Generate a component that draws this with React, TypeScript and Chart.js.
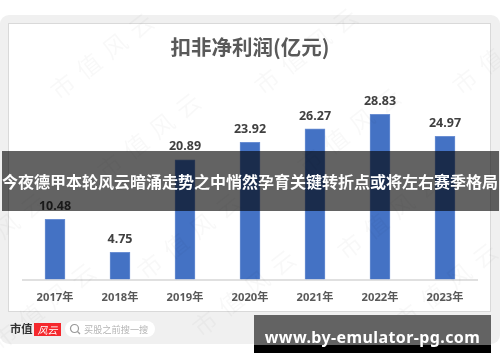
import React, { useEffect, useRef } from "react";
import { Chart, registerables } from "chart.js";

Chart.register(...registerables);

const categories = ["2017年", "2018年", "2019年", "2020年", "2021年", "2022年", "2023年"];
const profit = [10.48, 4.75, 20.89, 23.92, 26.27, 28.83, 24.97];
const chartTitle = "扣非净利润(亿元)";
const headline = "今夜德甲本轮风云暗涌走势之中悄然孕育关键转折点或将左右赛季格局";
const siteUrl = "www.by-emulator-pg.com";
const watermark = "市值风云";
const watermarkSpots = [
  [103, 50], [307, 45], [505, 45],
  [150, 130], [350, 125],
  [-5, 230], [190, 230], [390, 210],
  [45, 300], [245, 287], [447, 280],
];

const CJK = '"Noto Sans CJK SC", "Noto Sans", sans-serif';

const valueLabels = {
  id: "valueLabels",
  afterDatasetsDraw(chart: any) {
    const { ctx } = chart;
    const meta = chart.getDatasetMeta(0);
    ctx.save();
    ctx.font = `bold 12.5px "Noto Sans", sans-serif`;
    ctx.fillStyle = "#404040";
    ctx.textAlign = "center";
    ctx.textBaseline = "middle";
    meta.data.forEach((bar: any, i: number) => {
      ctx.fillText(profit[i].toFixed(2), bar.x, bar.y - 13);
    });
    ctx.restore();
  },
};

export default function App() {
  const ref = useRef<HTMLCanvasElement>(null);
  useEffect(() => {
    const chart = new Chart(ref.current!, {
      type: "bar",
      data: {
        labels: categories,
        datasets: [
          {
            data: profit,
            backgroundColor: "#4472c4",
            borderColor: "#6b8fd3",
            borderWidth: 1,
            barThickness: 20,
          },
        ],
      },
      options: {
        responsive: false,
        animation: false,
        layout: { padding: { left: 22.5, right: 22.5, top: 23, bottom: 0 } },
        plugins: {
          legend: { display: false },
          tooltip: { enabled: false },
          title: {
            display: true,
            text: chartTitle,
            color: "#595959",
            font: { family: CJK, size: 20.5, weight: "bold" },
            padding: { top: 11.5, bottom: 37 },
          },
        },
        scales: {
          x: {
            afterFit(scale: any) {
              scale.height = 82.5;
            },
            grid: { display: false },
            border: { color: "#e0e0e0", width: 2 },
            ticks: {
              color: "#595959",
              padding: 4,
              maxRotation: 0,
              font: { family: '"Noto Sans", ' + CJK, size: 11.2, weight: "bold" },
            },
          },
          y: { display: false, min: 0, max: 32 },
        },
      },
      plugins: [valueLabels],
    } as any);
    return () => chart.destroy();
  }, []);

  return (
    <div style={{ position: "absolute", left: 0, top: 0, width: 500, height: 362, overflow: "hidden", background: "#fff" }}>
      <div style={{ position: "absolute", left: 0, top: 15, width: 500, height: 329, background: "#f0f0f0", borderRadius: 9 }} />
      <div style={{ position: "absolute", left: 8, top: 23, width: 481, height: 287, background: "#fff", border: "1px solid #d9d9d9" }} />
      <canvas ref={ref} width={500} height={362} style={{ position: "absolute", left: 0, top: 0 }} />
      {watermarkSpots.map(([x, y], i) => (
        <div
          key={i}
          style={{
            position: "absolute",
            left: x - 70,
            top: y - 15,
            width: 140,
            height: 30,
            lineHeight: "30px",
            textAlign: "center",
            transform: "rotate(-38deg)",
            color: "rgba(0,0,0,0.028)",
            font: `24px ${CJK}`,
            letterSpacing: 9,
            whiteSpace: "nowrap",
          }}
        >
          {watermark}
        </div>
      ))}
      <div style={{ position: "absolute", left: 10, top: 320, font: `bold 11.3px/18px "Liberation Serif", "Noto Sans CJK SC", serif`, color: "#333" }}>市值</div>
      <div style={{ position: "absolute", left: 34, top: 323, width: 27, height: 13, background: "#f5282d", color: "#fff", font: `italic 10px/13px ${CJK}`, textAlign: "center" }}>风云</div>
      <div style={{ position: "absolute", left: 65, top: 321, width: 90, height: 16, background: "#fff", borderRadius: 8 }} />
      <svg width="12" height="12" style={{ position: "absolute", left: 69, top: 323 }}>
        <circle cx="5.5" cy="5.5" r="4" fill="none" stroke="#999" strokeWidth="1.2" />
        <line x1="8.5" y1="8.5" x2="11" y2="11" stroke="#999" strokeWidth="1.2" />
      </svg>
      <div style={{ position: "absolute", left: 84, top: 322, font: `9.2px/14px ${CJK}`, color: "#b5b5b5", whiteSpace: "nowrap" }}>买股之前搜一搜</div>
      <div style={{ position: "absolute", left: 2, top: 151, width: 497, height: 60, background: "rgba(0,0,0,0.61)" }} />
      <div style={{ position: "absolute", left: 0, top: 151, width: 500, height: 60, textAlign: "center", color: "#fff", font: `bold 16px/60px ${CJK}`, whiteSpace: "nowrap" }}>{headline}</div>
      <div style={{ position: "absolute", left: 254, top: 315, width: 237, height: 30, background: "#636363" }} />
      <div style={{ position: "absolute", left: 254, top: 345, width: 237, height: 8, background: "#000" }} />
      <div style={{ position: "absolute", left: 254, top: 322, width: 237, height: 30, textAlign: "center", color: "#fff", font: `bold 16px/30px "Noto Sans", sans-serif`, letterSpacing: 0.4, whiteSpace: "nowrap" }}>{siteUrl}</div>
    </div>
  );
}
